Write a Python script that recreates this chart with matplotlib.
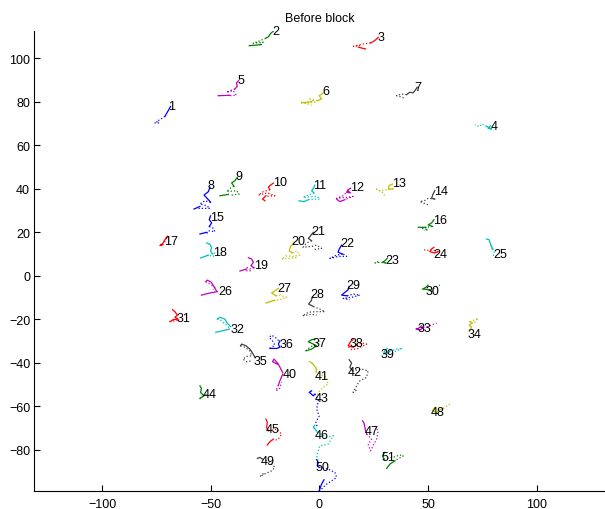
import matplotlib
matplotlib.use("Agg")
import matplotlib.pyplot as plt
import numpy as np

plt.rcParams['font.family'] = ['Liberation Sans', 'DejaVu Sans']

N = None  # break marker inside a path

title = "Before block"
x_ticks = [-100, -50, 0, 50, 100]
y_ticks = [-80, -60, -40, -20, 0, 20, 40, 60, 80, 100]

label_ids = list(range(1, 52))
label_x = [-69.6, -21.6, 26.6, 78.7, -37.7, 1.5, 43.6, -51.6, -38.9, -21.2,
           -2.8, 14.3, 33.2, 52.7, -50.4, 52.3, -71.4, -48.8, -30.1, -12.8,
           -3.9, 9.7, 30.1, 52.3, 79.9, -46.6, -19.4, -4.4, 12.5, 48.8,
           -65.7, -40.9, 45.0, 68.1, -30.1, -18.5, -3.2, 13.7, 28.3, -17.0,
           -2.4, 13.2, -2.4, -53.8, -24.6, -2.1, 20.6, 51.3, -26.9, -1.6, 28.6]
label_y = [77.8, 112.3, 109.6, 68.9, 90.1, 85.0, 86.6, 41.6, 45.9, 43.2,
           41.8, 40.6, 42.6, 38.9, 26.8, 25.7, 16.1, 10.7, 4.8, 16.0,
           20.6, 14.8, 7.3, 9.9, 9.9, -7.2, -5.9, -8.5, -4.4, -7.0,
           -19.7, -24.6, -24.3, -26.9, -39.5, -31.5, -31.0, -31.0, -36.1, -45.3,
           -46.4, -44.2, -56.3, -54.5, -70.6, -73.4, -71.4, -62.9, -85.2, -87.9, -83.2]

solid_paths = [
    [(-68.5,77.8),(-69.6,75.8),(-71.1,73.2)],
    [(-21.3,112.3),(-22.5,111.3),(-23.4,109.9),(-24.7,109.1),N,(-26.7,106.2),(-32.3,105.7)],
    [(27.1,109.6),(26.0,108.5),(24.8,107.6),(23.5,107.0),N,(17.9,105.0),(21.2,104.2)],
    [(78.7,68.9),(77.6,67.7),(79.2,67.4),(76.9,68.6)],
    [(-37.2,89.6),(-38.2,88.6),(-37.8,87.0),(-38.9,85.8),N,(-41.2,82.9),(-46.6,82.7)],
    [(1.8,84.0),(-0.1,82.7),(1.0,81.2),(-1.0,80.4),N,(-3.6,80.0),(-8.2,79.4)],
    [(45.0,86.6),(43.9,85.0),(43.1,84.0),(41.6,84.3),(40.1,83.2)],
    [(-50.4,40.6),(-51.1,38.6),(-53.1,37.0),(-51.1,34.9),(-50.1,33.7),N,(-55.0,31.8),(-57.7,30.6)],
    [(-37.8,45.2),(-38.9,43.6),(-40.4,42.6),(-39.3,41.0),N,(-41.9,37.3),(-45.8,36.7)],
    [(-21.2,42.5),(-22.5,41.6),(-23.5,40.6),(-22.8,39.5),N,(-24.6,36.7),(-26.2,35.2),(-25.1,34.4)],
    [(-2.1,41.6),(-2.8,40.1),(-3.6,39.0),(-2.5,38.0),N,(-5.1,34.9),(-7.1,34.0),(-9.4,34.4)],
    [(14.3,40.1),(13.2,39.5),(12.5,38.3),(14.3,38.0),(13.2,38.9),N,(11.7,34.9),(9.4,34.0),(7.9,35.2)],
    [(33.6,42.1),(32.1,41.4),(31.7,39.8),(33.9,39.8)],
    [(53.1,39.1),(52.3,37.5),(51.6,35.5),(53.1,35.2)],
    [(-50.1,27.5),(-50.7,25.7),(-49.6,24.2),(-50.7,22.6),N,(-51.9,19.9),(-55.0,19.1)],
    [(52.7,25.7),(51.6,24.2),(50.0,23.3),(52.0,22.6),N,(49.0,22.2),(45.5,22.2)],
    [(-70.0,18.1),(-71.1,16.5),(-71.9,15.0),(-73.4,13.8),(-72.2,14.1)],
    [(-51.9,15.0),(-50.4,14.4),(-49.6,12.8),(-50.1,11.4),(-49.3,9.9),N,(-51.1,9.4),(-54.7,8.1)],
    [(-32.7,8.2),(-31.2,7.6),(-30.4,6.1),(-31.5,4.5),(-30.1,3.6),N,(-33.5,3.0),(-36.6,2.1)],
    [(-11.7,15.3),(-13.3,13.4),(-13.9,11.4),(-12.4,10.4)],
    [(-2.8,19.9),(-4.1,18.3),(-5.1,17.1),(-3.6,16.0)],
    [(10.2,14.0),(9.1,12.2),(8.6,10.7),(10.6,9.9)],
    [(31.2,7.9),(30.1,6.8),(29.0,6.1),(30.6,5.8)],
    [(52.7,13.0),(51.6,12.2),(50.8,11.0),(53.1,10.4),(54.6,11.0)],
    [(76.9,16.8),(78.1,16.5),(78.7,14.5),(79.6,12.2)],
    [(-47.4,-7.0),(-48.6,-5.0),(-49.7,-3.1),(-51.6,-2.1),(-52.3,-2.8),N,(-47.0,-7.4),(-50.4,-8.0),(-54.3,-9.0)],
    [(-18.9,-5.9),(-20.5,-7.0),(-22.0,-8.0),(-20.0,-9.3),N,(-20.5,-11.3),(-24.6,-12.6)],
    [(-3.2,-9.7),(-3.8,-11.6),(-5.0,-13.1),(-2.8,-14.2)],
    [(13.6,-5.0),(13.2,-6.5),(11.7,-7.7),(10.2,-9.0),(12.8,-9.3)],
    [(50.0,-4.4),(49.0,-5.4),(47.4,-6.2),(50.8,-6.5),(51.6,-7.4)],
    [(-67.6,-15.7),(-66.5,-16.6),(-65.4,-18.2),(-66.5,-19.2),(-65.0,-20.0),(-67.3,-20.3),(-68.8,-21.2)],
    [(-40.9,-23.4),(-42.5,-21.8),(-43.5,-20.0),(-45.8,-19.2),(-47.0,-20.0),N,(-41.5,-24.6),(-44.6,-25.4),(-47.7,-26.1)],
    [(47.0,-23.1),(45.5,-24.3),(44.4,-24.6),(46.5,-24.9),(47.8,-23.8)],
    [(69.2,-25.4),(70.0,-23.8),(68.9,-22.8),(70.4,-21.8),(69.2,-21.2)],
    [(-29.7,-37.6),(-30.8,-35.6),(-32.0,-33.8),(-33.8,-32.3),(-35.8,-31.5),(-36.3,-32.3)],
    [(-18.2,-30.0),(-18.9,-31.5),(-18.2,-33.0),(-19.7,-33.5),(-22.8,-33.5)],
    [(-2.1,-29.2),(-3.6,-29.5),(-5.1,-30.4),(-2.8,-31.5),(-1.3,-32.3),(-3.6,-33.8),(-6.2,-34.6)],
    [(15.5,-29.5),(14.3,-30.4),(13.2,-32.3),(15.5,-33.0),(17.1,-32.0)],
    [(31.2,-33.5),(30.1,-34.6),(29.4,-36.1),(31.7,-35.6),(32.4,-34.6)],
    [(-16.9,-44.5),(-17.9,-42.7),(-18.9,-40.7),(-20.9,-38.4),(-21.6,-39.6),(-19.4,-40.7),N,(-16.9,-45.3),(-18.2,-48.4),(-18.9,-50.4)],
    [(-4.4,-39.6),(-3.2,-40.4),(-2.1,-41.8),(-1.3,-43.0),(-1.6,-44.2)],
    [(13.7,-38.7),(14.8,-40.2),(14.0,-42.2),(15.2,-43.8)],
    [(-3.6,-53.0),(-4.7,-53.7),(-2.8,-55.3),(-2.1,-54.5)],
    [(-55.0,-50.7),(-54.3,-51.9),(-54.7,-53.7),(-53.2,-55.3),(-55.0,-56.5)],
    [(-24.6,-66.0),(-24.0,-67.5),(-24.3,-69.8),(-23.5,-71.4),N,(-21.2,-75.2),(-22.8,-76.4),(-24.0,-77.9)],
    [(-2.1,-68.8),(-2.8,-69.8),(-1.3,-71.4),(-1.0,-72.1)],
    [(19.8,-66.8),(20.5,-67.8),(21.1,-70.6),(21.7,-72.9)],
    [(53.1,-60.6),(52.0,-62.2),(53.9,-62.9),(55.4,-61.7),(56.9,-61.1)],
    [(-28.6,-84.1),(-27.4,-83.6),(-26.2,-84.4)],
    [(-1.3,-84.7),(-0.5,-85.9),(-1.0,-87.5),(-0.1,-88.2),N,(2.1,-93.9),(1.0,-95.9),(-0.1,-98.9)],
    [(30.1,-81.3),(29.0,-82.9),(29.7,-84.4),N,(34.7,-85.2),(32.4,-86.7),(30.9,-88.7)],
]

dotted_paths = [
    [(-71.1,73.2),(-73.4,71.7),(-75.0,70.8),(-73.7,70.2),(-76.5,70.2)],
    [(-24.7,109.1),(-27.4,108.0),(-30.5,106.8),(-25.9,107.3),(-28.2,105.7)],
    [(23.5,107.0),(20.2,106.5),(15.6,105.4),(18.6,105.7)],
    [(76.9,68.6),(74.6,69.7),(73.8,68.5),(71.5,69.3)],
    [(-38.9,85.8),(-42.8,84.3),(-39.7,85.0),(-38.2,83.0),(-41.2,82.7)],
    [(-1.0,80.4),(-4.4,81.2),(-2.1,79.7),(-5.9,79.4),(-8.2,79.7),(-3.6,78.4)],
    [(40.1,83.2),(37.8,83.5),(35.5,82.7),(37.0,82.3),(39.3,81.5)],
    [(-50.1,33.7),(-52.7,34.4),(-55.0,32.9),(-51.9,32.1),(-50.4,30.9),(-55.7,30.9)],
    [(-39.3,41.0),(-41.2,40.1),(-42.7,38.6),(-38.1,39.0),(-36.9,37.5),(-40.4,37.0)],
    [(-22.8,39.5),(-25.8,38.6),(-28.1,37.0),(-24.0,38.0),(-20.5,36.7),(-25.1,36.4)],
    [(-2.5,38.0),(-5.1,37.0),(-7.5,36.0),(-1.3,36.4),(0.2,35.2),(-5.1,34.9)],
    [(13.2,38.9),(10.9,36.7),(7.9,35.5),(12.5,36.0),(15.5,36.4),(11.7,34.9)],
    [(33.9,39.8),(30.9,39.5),(27.8,39.0),(26.3,39.8),(29.4,38.0),(30.1,36.4)],
    [(53.1,35.2),(50.0,35.5),(48.5,34.5),(46.2,34.0),(47.8,33.4),(50.0,32.5)],
    [(-50.7,22.6),(-48.8,21.7),(-48.1,20.2),(-51.1,20.6),(-51.9,19.1)],
    [(52.0,22.6),(49.3,22.2),(47.4,21.7),(50.0,21.1),(48.1,20.7)],
    [(-72.2,14.1),(-71.1,15.6),(-70.3,17.6)],
    [(-49.3,9.9),(-48.1,10.7),(-48.8,8.8),(-51.1,9.4),(-52.7,8.8)],
    [(-30.1,3.6),(-32.0,3.0),(-33.5,3.8),(-34.3,2.2),(-31.2,2.2)],
    [(-12.4,10.4),(-10.5,11.4),(-9.0,9.4),(-12.0,8.8),(-15.1,9.1),(-17.4,7.6),(-13.6,7.9),(-9.8,8.4)],
    [(-3.6,16.0),(-5.9,15.0),(-7.5,13.0),(-3.6,13.4),(-1.3,14.0),(1.0,12.5),(-2.8,11.9)],
    [(10.6,9.9),(7.9,9.4),(4.8,7.9),(8.6,8.8),(12.5,8.8),(10.2,10.4)],
    [(30.6,5.8),(27.8,6.1),(25.5,5.8),(27.1,6.4)],
    [(54.6,11.0),(51.6,11.9),(49.3,11.5),(48.1,11.9)],
    [(79.6,12.2),(79.2,13.8),(80.4,10.7),(79.9,8.4)],
    [(-52.3,-2.8),(-50.4,-3.9),(-48.1,-5.4),(-48.9,-6.5)],
    [(-20.0,-9.3),(-18.2,-9.0),(-15.1,-10.0),(-18.2,-11.1),(-21.2,-11.6),(-24.3,-12.6)],
    [(-2.8,-14.2),(0.2,-15.4),(2.5,-16.6),(-2.1,-16.6),(-5.1,-16.9),(-7.8,-18.5),(-3.6,-17.8),(-1.3,-18.2)],
    [(12.8,-9.3),(15.5,-8.5),(18.6,-9.0),(14.8,-10.0),(10.9,-10.5),(14.0,-11.1)],
    [(51.6,-7.4),(53.1,-5.4),(55.4,-4.4)],
    [(-68.8,-21.2),(-66.5,-20.8),(-64.2,-20.3)],
    [(-47.0,-20.0),(-45.1,-20.8),(-42.8,-22.8),(-41.2,-24.3)],
    [(47.8,-23.8),(50.8,-23.1),(53.9,-21.8)],
    [(69.2,-21.2),(71.5,-20.3),(73.0,-19.7),(70.7,-22.3)],
    [(-36.3,-32.3),(-34.3,-33.0),(-32.0,-34.6),(-31.2,-36.9),(-33.5,-37.2),(-35.3,-38.4),(-33.5,-39.6),(-31.2,-39.2)],
    [(-22.8,-33.5),(-20.5,-32.0),(-21.6,-30.0),(-23.1,-28.4),(-22.0,-27.4),(-19.7,-28.9),(-18.2,-30.7)],
    [(-6.2,-34.6),(-4.4,-33.0),(-0.5,-30.7),(0.2,-30.0)],
    [(17.1,-32.0),(19.4,-31.0),(21.7,-31.5),(17.8,-33.5),(14.8,-34.1),(13.2,-32.6)],
    [(32.4,-34.6),(35.5,-33.8),(38.2,-33.5),(34.7,-35.0)],
    [(-18.9,-50.4),(-20.0,-53.0),(-18.5,-52.2),(-17.4,-49.1)],
    [(-1.6,-44.2),(0.2,-45.3),(3.3,-46.8),(4.0,-49.9),(1.7,-51.4),(0.2,-53.0),(-1.3,-55.3)],
    [(15.2,-43.8),(19.4,-43.0),(22.4,-43.8),(21.7,-46.8),(18.6,-48.4),(17.1,-50.7),(15.5,-53.7),(17.8,-52.2)],
    [(-2.1,-54.5),(-0.5,-57.6),(-1.3,-61.4),(-0.1,-64.5),(-1.6,-67.5),(-1.0,-69.8)],
    [(-55.0,-56.5),(-52.7,-55.0),(-51.2,-54.0)],
    [(-23.5,-71.4),(-19.7,-70.6),(-17.4,-72.9),(-18.9,-75.2),(-21.2,-76.0)],
    [(-1.0,-72.1),(3.3,-74.4),(6.4,-73.7),(4.0,-77.5),(0.2,-78.3),(-1.3,-82.9),(-0.5,-85.2)],
    [(21.7,-72.9),(24.0,-75.2),(22.4,-77.5),(23.5,-80.6),(24.7,-78.3),(26.3,-75.2),(27.0,-71.4),(25.5,-69.1)],
    [(56.9,-61.1),(59.2,-59.6),(60.0,-59.1)],
    [(-26.2,-84.4),(-22.8,-85.9),(-20.5,-88.2),(-22.0,-89.8),(-24.3,-90.8),(-27.4,-92.4),(-25.1,-90.5)],
    [(-0.1,-88.2),(4.0,-89.0),(7.1,-90.5),(7.9,-92.8),(5.6,-94.4),(3.3,-95.9),(1.7,-97.4),(0.2,-98.9)],
    [(29.7,-84.4),(33.9,-83.6),(37.0,-82.5),(38.6,-82.9),(35.5,-84.7)],
]

# MATLAB classic colour order
color_order = [(0, 0, 1), (0, 0.5, 0), (1, 0, 0), (0, 0.75, 0.75),
               (0.75, 0, 0.75), (0.75, 0.75, 0), (0.25, 0.25, 0.25)]


def to_xy(path):
    xs = [np.nan if p is None else p[0] for p in path]
    ys = [np.nan if p is None else p[1] for p in path]
    return xs, ys


fig = plt.figure(figsize=(6.05, 5.10), dpi=100)
ax = fig.add_axes([34.3 / 605, 1 - 492.3 / 510, (605 - 34.3) / 605, (492.3 - 31.7) / 510])

for i, lid in enumerate(label_ids):
    c = color_order[i % len(color_order)]
    sx, sy = to_xy(solid_paths[i])
    dx, dy = to_xy(dotted_paths[i])
    ax.plot(dx, dy, linestyle=':', color=c, linewidth=0.9)
    ax.plot(sx, sy, linestyle='-', color=c, linewidth=0.9)
    ax.text(label_x[i], label_y[i], str(lid), ha='left', va='center',
            fontsize=9, color='black')

ax.set_xlim(-131.2, 131.4)
ax.set_ylim(-99.2, 112.6)
ax.set_xticks(x_ticks)
ax.set_yticks(y_ticks)
ax.tick_params(direction='in', length=4, width=0.8, labelsize=9)
ax.tick_params(axis='y', pad=3)
ax.tick_params(axis='x', pad=5)
for s in ['top', 'right']:
    ax.spines[s].set_visible(False)
for s in ['left', 'bottom']:
    ax.spines[s].set_linewidth(0.8)
ax.set_title(title, fontsize=9, pad=7)

fig.savefig("out.png", dpi=100)
